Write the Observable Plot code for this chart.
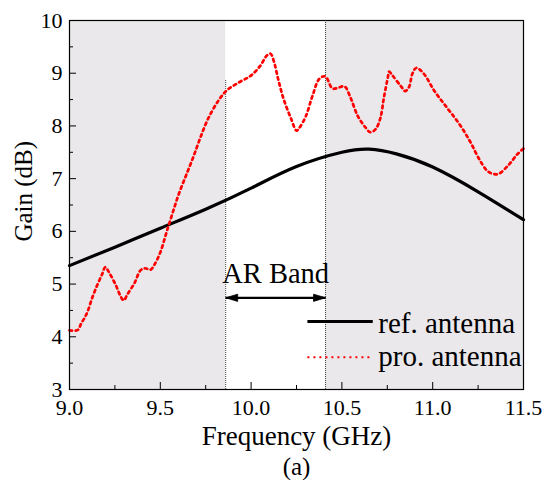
<!DOCTYPE html>
<html><head><meta charset="utf-8">
<script src="https://cdn.jsdelivr.net/npm/d3@7"></script>
<script src="https://cdn.jsdelivr.net/npm/@observablehq/plot@0.6"></script>
<style>body{margin:0;background:#fff}#chart svg{display:block}</style>
</head><body><div id="chart"></div>
<script>
// ---- data ----
const seriesNames = ["ref. antenna", "pro. antenna"];
const refX = [9.0, 9.25, 9.5, 9.75, 10.0, 10.25, 10.5, 10.65, 10.8, 11.0, 11.25, 11.5];
const refY = [5.35, 5.70, 6.06, 6.42, 6.82, 7.23, 7.50, 7.56, 7.47, 7.22, 6.75, 6.22];
const proX = [9.0, 9.046, 9.064, 9.083, 9.1, 9.122, 9.149, 9.18, 9.197, 9.218, 9.255, 9.284, 9.299, 9.318, 9.358, 9.391, 9.416, 9.445, 9.468, 9.501, 9.534, 9.567, 9.602, 9.644, 9.685, 9.723, 9.765, 9.82, 9.865, 9.93, 9.997, 10.048, 10.088, 10.107, 10.125, 10.151, 10.18, 10.221, 10.25, 10.265, 10.301, 10.338, 10.375, 10.408, 10.448, 10.477, 10.514, 10.547, 10.587, 10.628, 10.657, 10.686, 10.712, 10.731, 10.753, 10.76, 10.778, 10.826, 10.848, 10.87, 10.888, 10.91, 10.951, 11.01, 11.08, 11.146, 11.205, 11.256, 11.3, 11.333, 11.362, 11.421, 11.465, 11.5];
const proY = [4.12, 4.13, 4.25, 4.36, 4.48, 4.71, 4.95, 5.19, 5.32, 5.22, 4.98, 4.75, 4.69, 4.80, 5.02, 5.26, 5.30, 5.27, 5.37, 5.61, 5.98, 6.34, 6.71, 7.08, 7.44, 7.80, 8.15, 8.48, 8.67, 8.82, 8.95, 9.13, 9.34, 9.37, 9.23, 8.86, 8.50, 8.13, 7.91, 7.96, 8.18, 8.57, 8.89, 8.94, 8.71, 8.72, 8.75, 8.54, 8.19, 7.98, 7.88, 7.94, 8.15, 8.53, 8.92, 9.03, 8.96, 8.75, 8.66, 8.74, 8.99, 9.10, 8.99, 8.66, 8.34, 8.04, 7.71, 7.37, 7.15, 7.09, 7.09, 7.27, 7.46, 7.57];
const band = [9.86, 10.41];
const bandLabel = "AR Band";
const xDomain = [9.0, 11.5];
const yDomain = [3, 10];
const xMajor = [9.0, 9.5, 10.0, 10.5, 11.0, 11.5];
const xMinor = [9.25, 9.75, 10.25, 10.75, 11.25];
const yMajor = [3, 4, 5, 6, 7, 8, 9, 10];
const yMinor = [3.5, 4.5, 5.5, 6.5, 7.5, 8.5, 9.5];
const xLabel = "Frequency (GHz)";
const yLabel = "Gain (dB)";
const caption = "(a)";

// ---- layout ----
const W = 546, H = 480, mL = 69, mR = 23, mT = 20, mB = 91;
const innerW = W - mL - mR, innerH = H - mT - mB;
const FONT = "'Liberation Serif', 'Times New Roman', serif";

const ref = refX.map((x, i) => ({x, y: refY[i]}));
const pro = proX.map((x, i) => ({x, y: proY[i]}));
const grayRegions = [{x1: xDomain[0], x2: band[0]}, {x1: band[1], x2: xDomain[1]}];
const arrowY = 4.74, bandTextY = 5.20, leftBandTop = 8.87, yLabelY = 6.76;
const legendX1 = 10.31, legendX2 = 10.67, legendTextX = 10.70;
const legendLineY = [4.29, 3.61];
const legendTextY = [4.25, 3.63];

// elongated arrow head, tip at origin, pointing up
const headShape = {draw(ctx) { ctx.moveTo(0, 0); ctx.lineTo(3.6, 12); ctx.lineTo(-3.6, 12); ctx.closePath(); }};

const chart = Plot.plot({
  width: W, height: H,
  marginLeft: mL, marginRight: mR, marginTop: mT, marginBottom: mB,
  style: {fontFamily: FONT, background: "#fff", color: "#000", overflow: "visible"},
  x: {domain: xDomain},
  y: {domain: yDomain},
  marks: [
    Plot.rect(grayRegions, {x1: "x1", x2: "x2", y1: yDomain[0], y2: yDomain[1], fill: "#eae8eb"}),
    Plot.ruleX([band[0]], {x: d => d, y1: yDomain[0], y2: leftBandTop, stroke: "#444", strokeWidth: 1, strokeDasharray: "1,1"}),
    Plot.ruleX([band[1]], {x: d => d, stroke: "#444", strokeWidth: 1, strokeDasharray: "1,1"}),
    // ticks (inward)
    Plot.ruleX(xMajor, {x: d => d, insetTop: innerH - 7, stroke: "#000", strokeWidth: 1}),
    Plot.ruleX(xMinor, {x: d => d, insetTop: innerH - 4, stroke: "#000", strokeWidth: 1}),
    Plot.ruleY(yMajor, {y: d => d, insetRight: innerW - 7, stroke: "#000", strokeWidth: 1}),
    Plot.ruleY(yMinor, {y: d => d, insetRight: innerW - 4, stroke: "#000", strokeWidth: 1}),
    Plot.axisX(xMajor, {tickSize: 0, tickPadding: 9.5, tickFormat: d => d.toFixed(1), fontSize: 22, label: null}),
    Plot.axisY(yMajor, {tickSize: 0, tickPadding: 7, tickFormat: d => String(d), fontSize: 22, label: null}),
    // curves
    Plot.line(ref, {x: "x", y: "y", stroke: "#000", strokeWidth: 3.2, curve: "natural"}),
    Plot.line(pro, {x: "x", y: "y", stroke: "#ff0000", strokeWidth: 2.7, strokeDasharray: "2.6,3.6", curve: "catmull-rom"}),
    // AR band annotation
    Plot.text([bandLabel], {x: (band[0] + band[1]) / 2, y: bandTextY, text: d => d, fontSize: 28.5, fill: "#000"}),
    Plot.link([band], {x1: d => d[0], x2: d => d[1], y1: arrowY, y2: arrowY, stroke: "#000", strokeWidth: 2.2}),
    Plot.dot([band[0]], {x: d => d, y: arrowY, symbol: headShape, rotate: -90, fill: "#000", stroke: "#000", strokeWidth: 0.8}),
    Plot.dot([band[1]], {x: d => d, y: arrowY, symbol: headShape, rotate: 90, fill: "#000", stroke: "#000", strokeWidth: 0.8}),
    // legend
    Plot.link([seriesNames[0]], {x1: legendX1, x2: legendX2, y1: legendLineY[0], y2: legendLineY[0], stroke: "#000", strokeWidth: 3}),
    Plot.link([seriesNames[1]], {x1: legendX1, x2: legendX2, y1: legendLineY[1], y2: legendLineY[1], stroke: "#ff0000", strokeWidth: 2, strokeDasharray: "2,4"}),
    Plot.text(seriesNames, {x: legendTextX, y: (d, i) => legendTextY[i], text: d => d, textAnchor: "start", fontSize: 29, fill: "#000"}),
    Plot.frame({stroke: "#000", strokeWidth: 1.2}),
    // titles
    Plot.text([xLabel], {frameAnchor: "bottom", dy: 55, text: d => d, fontSize: 27, fill: "#000"}),
    Plot.text([caption], {frameAnchor: "bottom", dy: 85.5, text: d => d, fontSize: 25, fill: "#000"}),
    Plot.text([yLabel], {frameAnchor: "left", y: yLabelY, dx: -46, rotate: -90, textAnchor: "middle", text: d => d, fontSize: 25, fill: "#000"})
  ]
});
document.getElementById("chart").append(chart);
</script>
</body></html>
